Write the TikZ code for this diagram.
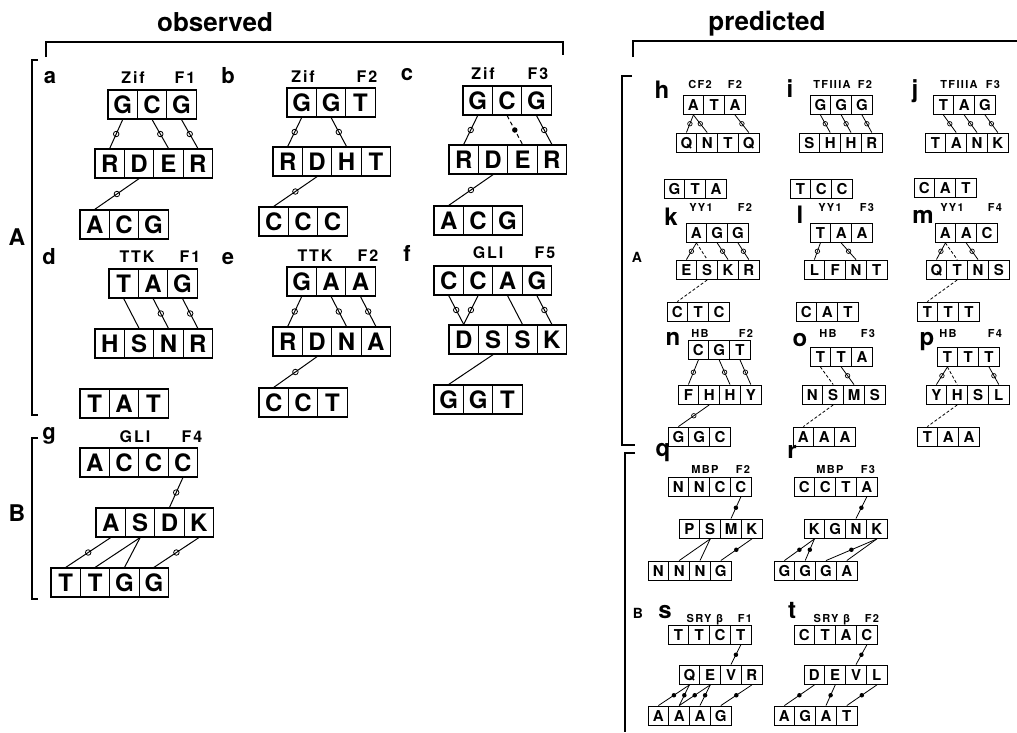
\documentclass[tikz,border=0pt]{standalone}
\usepackage{fontspec}
\setmainfont{TeX Gyre Heros}
\newfontfamily\spacedfont[LetterSpace=12]{TeX Gyre Heros}
\newcommand\orow[4]{\foreach \letr [count=\i] in {#4} {\node[ocell] (#1\i) at ({#2+(\i-0.5)*29.4},{#3+14.5}) {\letr};}}
\newcommand\prow[4]{\foreach \letr [count=\i] in {#4} {\node[pcell] (#1\i) at ({#2+(\i-0.5)*20.8},{#3+9.75}) {\letr};}}
\newcommand\cnO[2]{\draw[conn] (#1.south) -- node[omark]{} (#2.north);}
\newcommand\cnP[2]{\draw[conn] (#1.south) -- (#2.north);}
\newcommand\cnDF[2]{\draw[conn,dash pattern=on 4pt off 3pt] (#1.south) -- node[ofmark]{} (#2.north);}
\newcommand\pcO[2]{\draw[pconn] (#1.south) -- node[pomark]{} (#2.north);}
\newcommand\pcF[2]{\draw[pconn] (#1.south) -- node[pfmark]{} (#2.north);}
\newcommand\pcP[2]{\draw[pconn] (#1.south) -- (#2.north);}
\newcommand\pcD[2]{\draw[pconn,dash pattern=on 3pt off 2pt] (#1.south) -- (#2.north);}
\begin{document}
\begin{tikzpicture}[x=1pt,y=-1pt,
  ocell/.style={draw, line width=1.2pt, inner sep=0pt, minimum width=29.4pt, minimum height=29pt,
    font=\fontsize{24}{24}\selectfont\bfseries, text height=17pt, text depth=0pt},
  pcell/.style={draw, line width=0.9pt, inner sep=0pt, minimum width=20.8pt, minimum height=19.5pt,
    font=\fontsize{15}{15}\selectfont\bfseries, text height=10.8pt, text depth=0pt},
  conn/.style={line width=1pt},
  pconn/.style={line width=0.8pt},
  omark/.style={circle, draw, line width=0.8pt, inner sep=0pt, minimum size=5.5pt},
  ofmark/.style={circle, fill, inner sep=0pt, minimum size=5.5pt},
  pomark/.style={circle, draw, line width=0.7pt, inner sep=0pt, minimum size=4.5pt},
  pfmark/.style={circle, fill, inner sep=0pt, minimum size=4.5pt},
  brk/.style={line width=1.3pt},
  title/.style={anchor=base, inner sep=0pt, font=\fontsize{26}{26}\selectfont\bfseries},
  olet/.style={anchor=base, inner sep=0pt, font=\fontsize{22}{22}\selectfont\bfseries},
  olab/.style={anchor=base, inner sep=0pt, font=\spacedfont\fontsize{16}{16}\selectfont\bfseries},
  plet/.style={anchor=base, inner sep=0pt, font=\fontsize{24}{24}\selectfont\bfseries},
  plab/.style={anchor=base, inner sep=0pt, font=\spacedfont\fontsize{11}{11}\selectfont\bfseries},
  bigAB/.style={inner sep=0pt, font=\fontsize{23}{23}\selectfont\bfseries},
  smAB/.style={inner sep=0pt, font=\fontsize{14}{14}\selectfont\bfseries}
]
\useasboundingbox (0,0) rectangle (1017,732);
\fill[white] (0,0) rectangle (1017,732);
% titles and brackets
\node[title] (tobs) at (215,31) {observed};
\node[title] (tpred) at (767,30) {predicted};
\draw[brk] (46,57) -- (46,42) -- (563,42) -- (563,55);
\draw[brk] (633,57) -- (633,41) -- (1017,41);
\draw[brk] (38,60) -- (32,60) -- (32,415) -- (38,415);
\draw[brk] (38,438) -- (32,438) -- (32,599) -- (38,599);
\draw[brk] (632,76) -- (622,76) -- (622,445) -- (635,445);
\draw[brk] (635,453) -- (625,453) -- (625,732);
\node[bigAB] (lA) at (17,237) {A};
\node[bigAB] (lB) at (17,513) {B};
\node[smAB] (pA) at (637,257) {A};
\node[smAB] (pB) at (638,613) {B};
% ---- observed labels
\node[olet] (La) at (50,83) {a}; \node[olab] (Za) at (133,83) {Zif}; \node[olab] (Fa) at (185,83) {F1};
\node[olet] (Lb) at (228,83) {b}; \node[olab] (Zb) at (303,82) {Zif}; \node[olab] (Fb) at (367,82) {F2};
\node[olet] (Lc) at (407,80) {c}; \node[olab] (Zc) at (483,79) {Zif}; \node[olab] (Fc) at (538,79) {F3};
\node[olet] (Ld) at (49,264) {d}; \node[olab] (Zd) at (137,262) {TTK}; \node[olab] (Fd) at (190,262) {F1};
\node[olet] (Le) at (228,264) {e}; \node[olab] (Ze) at (315,261) {TTK}; \node[olab] (Fe) at (368,261) {F2};
\node[olet] (Lf) at (407,261) {f}; \node[olab] (Zf) at (488,258) {GLI}; \node[olab] (Ff) at (545,258) {F5};
\node[olet] (Lg) at (49,439) {g}; \node[olab] (Zg) at (135,442) {GLI}; \node[olab] (Fg) at (192,442) {F4};
% a
\orow{at}{108}{90}{G,C,G} \orow{am}{95}{149}{R,D,E,R} \orow{ab}{80}{210}{A,C,G}
\cnO{at1}{am1} \cnO{at2}{am3} \cnO{at3}{am4} \cnO{am2}{ab1}
% b
\orow{bt}{287}{88}{G,G,T} \orow{bm}{273}{147}{R,D,H,T} \orow{bb}{259}{207}{C,C,C}
\cnO{bt1}{bm1} \cnO{bt2}{bm3} \cnO{bm2}{bb1}
% c
\orow{ct}{463}{86}{G,C,G} \orow{cm}{449}{145}{R,D,E,R} \orow{cb}{434}{206}{A,C,G}
\cnO{ct1}{cm1} \cnDF{ct2}{cm3} \cnO{ct3}{cm4} \cnO{cm2}{cb1}
% d
\orow{dt}{109}{269}{T,A,G} \orow{dm}{95}{329}{H,S,N,R} \orow{db}{80}{389}{T,A,T}
\cnP{dt1}{dm2} \cnO{dt2}{dm3} \cnO{dt3}{dm4}
% e
\orow{et}{287}{267}{G,A,A} \orow{em}{273}{327}{R,D,N,A} \orow{eb}{259}{388}{C,C,T}
\cnO{et1}{em1} \cnO{et2}{em3} \cnO{et3}{em4} \cnO{em2}{eb1}
% f
\orow{ft}{434}{266}{C,C,A,G} \orow{fm}{449}{325}{D,S,S,K} \orow{fb}{434}{385}{G,G,T}
\cnO{ft1}{fm1} \cnO{ft2}{fm1} \cnP{ft3}{fm3} \cnO{ft4}{fm4} \cnP{fm2}{fb1}
% g
\orow{gt}{80}{448}{A,C,C,C} \orow{gm}{96}{508}{A,S,D,K} \orow{gb}{51}{568}{T,T,G,G}
\cnO{gt4}{gm3} \cnO{gm1}{gb1} \cnP{gm2}{gb2} \cnP{gm2}{gb3} \cnO{gm4}{gb4}
% ---- predicted labels
\node[plet] (Lh) at (662,98) {h}; \node[plab] (Zh) at (700,88) {CF2}; \node[plab] (Fh) at (735,88) {F2};
\node[plet] (Li) at (790,97) {i}; \node[plab] (Zi) at (832,88) {TFIIIA}; \node[plab] (Fi) at (865,88) {F2};
\node[plet] (Lj) at (915,97) {j}; \node[plab] (Zj) at (959,88) {TFIIIA}; \node[plab] (Fj) at (993,88) {F3};
\node[plet] (Lk) at (671,225) {k}; \node[plab] (Zk) at (701,211) {YY1}; \node[plab] (Fk) at (745,211) {F2};
\node[plet] (Ll) at (800,223) {l}; \node[plab] (Zl) at (830,211) {YY1}; \node[plab] (Fl) at (867,211) {F3};
\node[plet] (Lm) at (923,223) {m}; \node[plab] (Zm) at (952,211) {YY1}; \node[plab] (Fm) at (995,211) {F4};
\node[plet] (Ln) at (673,345) {n}; \node[plab] (Zn) at (700,337) {HB}; \node[plab] (Fn) at (746,337) {F2};
\node[plet] (Lo) at (800,346) {o}; \node[plab] (Zo) at (828,337) {HB}; \node[plab] (Fo) at (868,337) {F3};
\node[plet] (Lp) at (927,345) {p}; \node[plab] (Zp) at (948,337) {HB}; \node[plab] (Fp) at (995,337) {F4};
\node[plet] (Lq) at (663,456) {q}; \node[plab] (Zq) at (705,473) {MBP}; \node[plab] (Fq) at (743,473) {F2};
\node[plet] (Lr) at (792,458) {r}; \node[plab] (Zr) at (830,473) {MBP}; \node[plab] (Fr) at (868,473) {F3};
\node[plet] (Ls) at (665,618) {s}; \node[plab] (Zs) at (705,622) {SRY β}; \node[plab] (Fs) at (745,622) {F1};
\node[plet] (Lt) at (792,618) {t}; \node[plab] (Zt) at (832,622) {SRY β}; \node[plab] (Ft) at (872,622) {F2};
% h i j
\prow{ht}{683}{95}{A,T,A} \prow{hm}{676}{133}{Q,N,T,Q}
\pcO{ht1}{hm1} \pcO{ht1}{hm2} \pcO{ht3}{hm4}
\prow{it}{810}{95}{G,G,G} \prow{im}{799}{133}{S,H,H,R}
\pcO{it1}{im2} \pcO{it2}{im3} \pcO{it3}{im4}
\prow{jt}{933}{95}{T,A,G} \prow{jm}{925}{133}{T,A,N,K}
\pcO{jt1}{jm2} \pcO{jt2}{jm3} \pcO{jt3}{jm4}
\prow{hb}{664}{179}{G,T,A} \prow{ib}{790}{179}{T,C,C} \prow{jb}{914}{178}{C,A,T}
% k l m
\prow{kt}{686}{223}{A,G,G} \prow{km}{676}{260}{E,S,K,R} \prow{kb}{667}{302}{C,T,C}
\pcO{kt1}{km1} \pcD{kt1}{km2} \pcO{kt2}{km3} \pcO{kt3}{km4} \pcD{km2}{kb1}
\prow{lt}{810}{223}{T,A,A} \prow{lm}{804}{260}{L,F,N,T} \prow{lb}{796}{302}{C,A,T}
\pcO{lt1}{lm1} \pcO{lt2}{lm3}
\prow{mt}{935}{223}{A,A,C} \prow{mm}{926}{260}{Q,T,N,S} \prow{mb}{917}{302}{T,T,T}
\pcO{mt1}{mm1} \pcD{mt1}{mm2} \pcO{mt2}{mm3} \pcD{mm2}{mb1}
% n o p
\prow{nt}{688}{340}{C,G,T} \prow{nm}{678}{385}{F,H,H,Y} \prow{nb}{668}{427}{G,G,C}
\pcO{nt1}{nm1} \pcO{nt2}{nm3} \pcO{nt3}{nm4} \pcO{nm2}{nb1}
\prow{ot}{810}{347}{T,T,A} \prow{om}{802}{385}{N,S,M,S} \prow{ob}{793}{427}{A,A,A}
\pcD{ot1}{om2} \pcO{ot2}{om3} \pcD{om2}{ob1}
\prow{pt}{937}{347}{T,T,T} \prow{pm}{926}{385}{Y,H,S,L} \prow{pb}{917}{427}{T,A,A}
\pcO{pt1}{pm1} \pcD{pt1}{pm2} \pcO{pt3}{pm4} \pcD{pm2}{pb1}
% q r
\prow{qt}{668}{477}{N,N,C,C} \prow{qm}{679}{519}{P,S,M,K} \prow{qb}{648}{561}{N,N,N,G}
\pcF{qt4}{qm3} \pcP{qm2}{qb2} \pcP{qm2}{qb3} \pcF{qm4}{qb4}
\prow{rt}{794}{477}{C,C,T,A} \prow{rm}{804}{519}{K,G,N,K} \prow{rb}{774}{561}{G,G,G,A}
\pcF{rt4}{rm3} \pcF{rm1}{rb1} \pcF{rm1}{rb2} \pcF{rm4}{rb3} \pcP{rm4}{rb4}
% s t
\prow{st}{668}{625}{T,T,C,T} \prow{sm}{679}{665}{Q,E,V,R} \prow{sb}{648}{706}{A,A,A,G}
\pcF{st4}{sm3} \pcF{sm1}{sb1} \pcF{sm1}{sb2} \pcF{sm2}{sb2} \pcF{sm2}{sb3} \pcF{sm4}{sb4}
\prow{tt}{794}{625}{C,T,A,C} \prow{tm}{804}{665}{D,E,V,L} \prow{tb}{774}{706}{A,G,A,T}
\pcF{tt4}{tm3} \pcF{tm1}{tb1} \pcF{tm2}{tb3} \pcF{tm4}{tb4}
\end{tikzpicture}
\end{document}
